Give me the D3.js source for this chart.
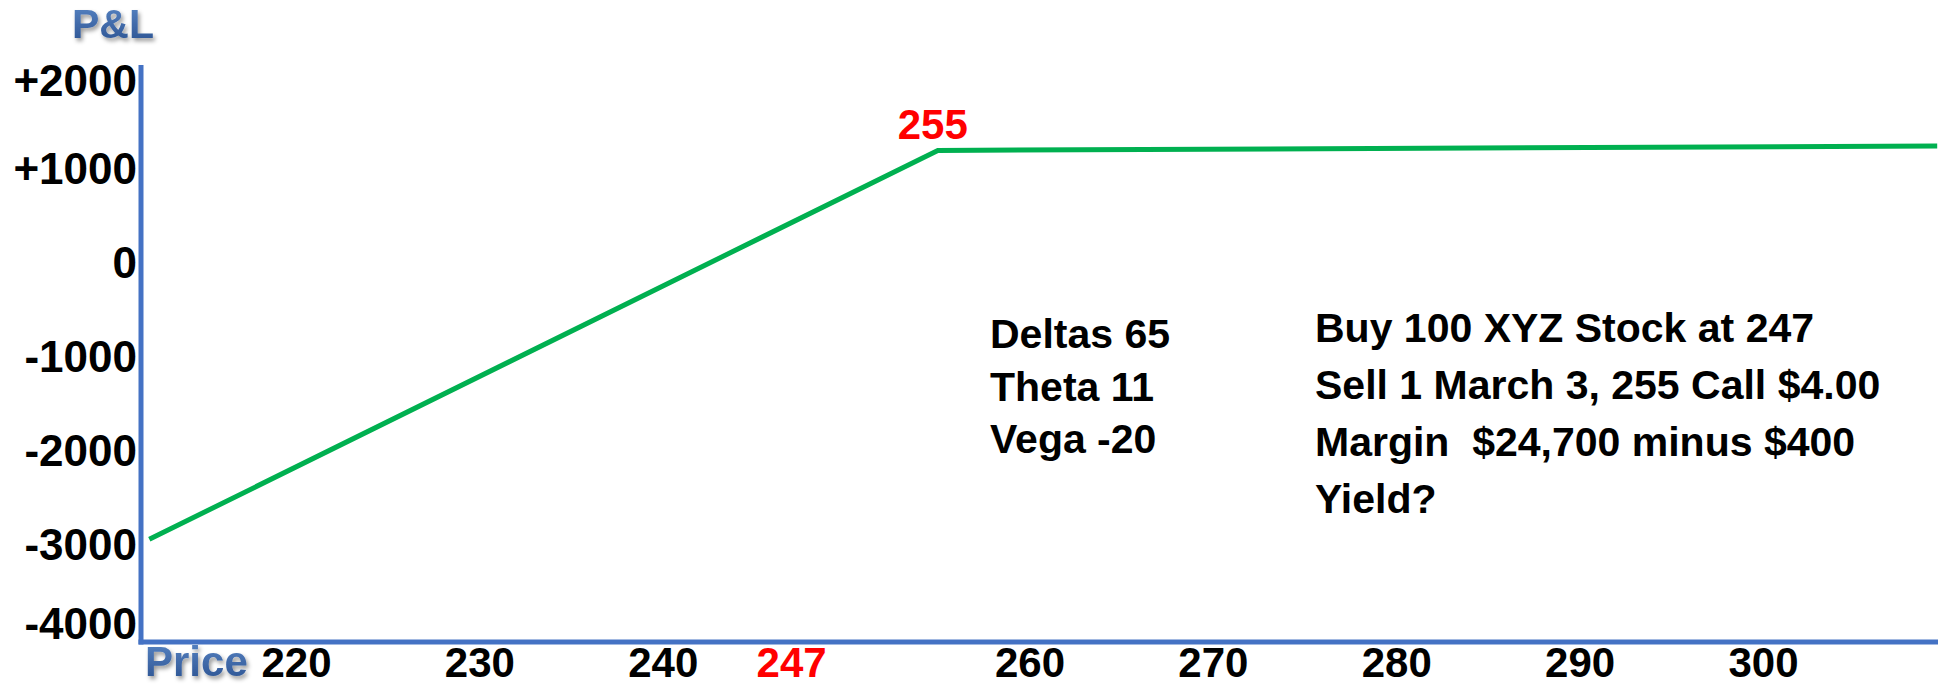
<!DOCTYPE html>
<html>
<head>
<meta charset="utf-8">
<script src="https://cdn.jsdelivr.net/npm/d3@7"></script>
<style>
  html, body { margin: 0; padding: 0; background: #ffffff; }
  svg { display: block; }
  text { font-family: "Liberation Sans", Arial, sans-serif; font-weight: bold; }
</style>
</head>
<body>
<div id="chart"></div>
<script>
// ---- data ----
const prices = [212, 255, 309.5];          // stock price at expiration
const pnlValues = [-2950, 1200, 1250];     // position P&L
const xTickValues = [220, 230, 240, 247, 260, 270, 280, 290, 300];
const xHighlight = [247];
const yTickValues = [2000, 1000, 0, -1000, -2000, -3000, -4000];
const strikeLabel = "255";
const greeks = ["Deltas 65", "Theta 11", "Vega -20"];
const tradeNotes = ["Buy 100 XYZ Stock at 247", "Sell 1 March 3, 255 Call $4.00", "Margin  $24,700 minus $400", "Yield?"];

// ---- layout ----
const W = 1938, H = 686;
const axisX = 141, axisTop = 65, axisY = 642;

const svg = d3.select("#chart").append("svg").attr("width", W).attr("height", H);

const defs = svg.append("defs");
const grad = defs.append("linearGradient").attr("id", "blueGrad").attr("x1", 0).attr("y1", 0).attr("x2", 0).attr("y2", 1);
grad.append("stop").attr("offset", "0%").attr("stop-color", "#5b87c6");
grad.append("stop").attr("offset", "100%").attr("stop-color", "#284f8e");
const filt = defs.append("filter").attr("id", "shadow").attr("x", "-20%").attr("y", "-20%").attr("width", "150%").attr("height", "160%");
filt.append("feDropShadow").attr("dx", 2).attr("dy", 3).attr("stdDeviation", 2).attr("flood-color", "#000").attr("flood-opacity", 0.4);

const x = d3.scaleLinear().domain([220, 300]).range([296, 1763]);
const y = d3.scaleLinear().domain([-4000, -3000, 1000, 2000]).range([623, 544, 168, 80]);

// axis lines
svg.append("line").attr("x1", axisX).attr("x2", axisX).attr("y1", axisTop).attr("y2", axisY + 2.5)
  .attr("stroke", "#4472C4").attr("stroke-width", 5);
svg.append("line").attr("x1", axisX - 2.5).attr("x2", W).attr("y1", axisY).attr("y2", axisY)
  .attr("stroke", "#4472C4").attr("stroke-width", 5);

// y axis labels
const yAxis = d3.axisLeft(y).tickValues(yTickValues).tickSize(0).tickPadding(4)
  .tickFormat(v => v > 0 ? "+" + v : String(v));
const gy = svg.append("g").attr("transform", `translate(${axisX},0)`).call(yAxis);
gy.select(".domain").remove();
gy.selectAll("text").attr("font-family", "Liberation Sans, Arial, sans-serif")
  .attr("font-weight", "bold").attr("font-size", 44).attr("fill", "#000").attr("dy", "0.36em");

// x axis labels
const xAxis = d3.axisBottom(x).tickValues(xTickValues).tickSize(0).tickFormat(d => String(d));
const gx = svg.append("g").attr("transform", `translate(0,${axisY})`).call(xAxis);
gx.select(".domain").remove();
gx.selectAll("text").attr("y", 35).attr("dy", null)
  .attr("font-family", "Liberation Sans, Arial, sans-serif")
  .attr("font-weight", "bold").attr("font-size", 42)
  .attr("fill", d => xHighlight.includes(d) ? "#FF0000" : "#000");

// axis titles
svg.append("text").attr("x", 72).attr("y", 38).attr("font-size", 41)
  .attr("fill", "url(#blueGrad)").attr("filter", "url(#shadow)").text("P&L");
svg.append("text").attr("x", 145).attr("y", 676).attr("font-size", 42)
  .attr("fill", "url(#blueGrad)").attr("filter", "url(#shadow)").text("Price");

// P&L line
const pts = prices.map((p, i) => ({ p, v: pnlValues[i] }));
svg.append("path").datum(pts)
  .attr("d", d3.line().x(d => x(d.p)).y(d => y(d.v)))
  .attr("fill", "none").attr("stroke", "#00B050").attr("stroke-width", 5)
  .attr("stroke-linejoin", "miter");

// strike label
svg.append("text").attr("x", x(255) - 5).attr("y", y(1200) - 11)
  .attr("text-anchor", "middle").attr("font-size", 42).attr("fill", "#FF0000").text(strikeLabel);

// greeks block
svg.append("g").selectAll("text").data(greeks).join("text")
  .attr("x", 990).attr("y", (d, i) => 348 + i * 52.5)
  .attr("font-size", 41).attr("fill", "#000").text(d => d);

// trade notes block
svg.append("g").selectAll("text").data(tradeNotes).join("text")
  .attr("x", 1315).attr("y", (d, i) => 342 + i * 57)
  .attr("font-size", 41).attr("fill", "#000").attr("xml:space", "preserve")
  .style("white-space", "pre").text(d => d);
</script>
</body>
</html>
